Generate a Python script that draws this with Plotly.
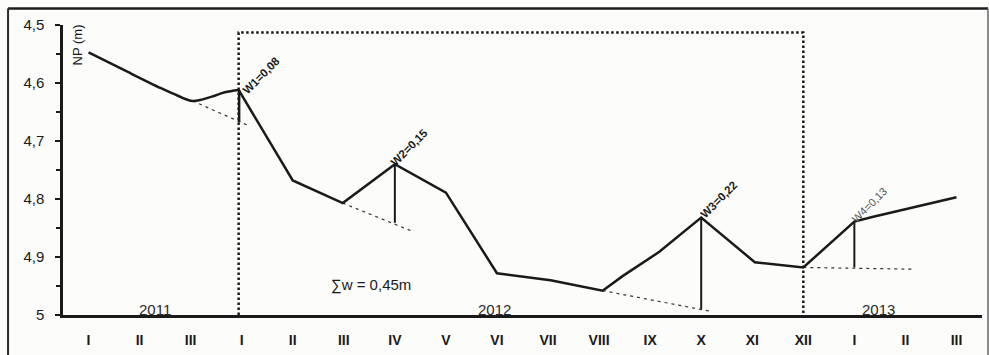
import plotly.graph_objects as go

# --- data ---
months = ["I", "II", "III", "I", "II", "III", "IV", "V", "VI", "VII", "VIII",
          "IX", "X", "XI", "XII", "I", "II", "III"]
month_pos = list(range(len(months)))

# water table depth NP (m), x = month index (0 = I 2011)
# smooth early part (I-2011 .. W1 peak)
np1_x = [0, 0.77, 1.42, 1.75, 2.04, 2.40, 2.67, 2.94]
np1_y = [4.547, 4.581, 4.609, 4.622, 4.631, 4.624, 4.616, 4.612]
# remaining part
np2_x = [2.94, 4.0, 4.98, 6.0, 7.0, 8.0, 9.05, 10.07, 10.46, 11.18, 12.0,
         13.05, 14.0, 15.0, 15.35, 17.0]
np2_y = [4.612, 4.768, 4.807, 4.740, 4.789, 4.928, 4.940, 4.958, 4.933,
         4.891, 4.832, 4.909, 4.918, 4.839, 4.831, 4.797]

# recession (extrapolation) dashed lines: [x0, x1], [y0, y1]
rec1_x, rec1_y = [2.04, 3.12], [4.631, 4.673]
rec2_x, rec2_y = [4.98, 6.35], [4.807, 4.856]
rec3_x, rec3_y = [10.07, 12.15], [4.958, 4.993]
rec4_x, rec4_y = [14.0, 16.17], [4.918, 4.921]

# W rise verticals
w_x = [2.95, 6.0, 12.0, 15.0]
w_top = [4.612, 4.740, 4.832, 4.839]
w_bot = [4.668, 4.841, 4.990, 4.918]
w_labels = ["W1=0,08", "W2=0,15", "W3=0,22", "W4=0,13"]
w_lab_x = [3.395, 6.29, 12.34, 15.29]
w_lab_y = [4.587, 4.711, 4.802, 4.810]

# 2012 hydrological-year box
box_x = [2.94, 2.94, 14.0, 14.0]
box_y = [5.0, 4.513, 4.513, 5.0]

y_ticks = [4.5, 4.6, 4.7, 4.8, 4.9, 5.0]
y_ticktext = ["4,5", "4,6", "4,7", "4,8", "4,9", "5"]

years = ["2011", "2012", "2013"]
year_x = [1.30, 7.95, 15.47]
year_y = [4.991, 4.990, 4.990]

sum_text = "∑w = 0,45m"
sum_x, sum_y = 5.53, 4.948

# --- figure ---
fig = go.Figure()
ink = "#1a1a1a"
FONT = "Liberation Sans, Arial"

fig.add_trace(go.Scatter(x=box_x, y=box_y, mode="lines",
                         line=dict(color=ink, width=2.5, dash="2.5px,2.5px"),
                         hoverinfo="skip"))
for rx, ry in [(rec1_x, rec1_y), (rec2_x, rec2_y), (rec3_x, rec3_y), (rec4_x, rec4_y)]:
    fig.add_trace(go.Scatter(x=rx, y=ry, mode="lines",
                             line=dict(color="#333", width=1.2, dash="3px,4px"),
                             hoverinfo="skip"))
for i in range(len(w_x)):
    fig.add_trace(go.Scatter(x=[w_x[i], w_x[i]], y=[w_top[i], w_bot[i]], mode="lines",
                             line=dict(color=ink, width=2.5 if i == 0 else 2),
                             hoverinfo="skip"))
fig.add_trace(go.Scatter(x=np1_x, y=np1_y, mode="lines",
                         line=dict(color=ink, width=2.5, shape="spline", smoothing=1),
                         hoverinfo="skip"))
fig.add_trace(go.Scatter(x=np2_x, y=np2_y, mode="lines",
                         line=dict(color=ink, width=2.5), hoverinfo="skip"))

for i, t in enumerate(w_labels):
    fig.add_annotation(x=w_lab_x[i], y=w_lab_y[i], text=t, showarrow=False,
                       textangle=-45, xanchor="center", yanchor="middle",
                       font=dict(size=11.5 if i < 3 else 11,
                                 color=ink if i < 3 else "#555",
                                 family=FONT,
                                 weight="bold" if i < 3 else "normal"))
for i, t in enumerate(years):
    fig.add_annotation(x=year_x[i], y=year_y[i], text=t, showarrow=False,
                       xanchor="center", yanchor="middle",
                       font=dict(size=15, color="#2a2a2a", family=FONT))
fig.add_annotation(x=sum_x, y=sum_y, text=sum_text, showarrow=False,
                   xanchor="center", yanchor="middle",
                   font=dict(size=15, color=ink, family=FONT))
fig.add_annotation(x=0.0152, y=0.933, xref="paper", yref="paper", text="NP (m)",
                   showarrow=False, textangle=-90, xanchor="center", yanchor="middle",
                   font=dict(size=13, color=ink, family=FONT))

# outer frame (around whole chart)
fig.add_shape(type="line", xref="paper", yref="paper",
              x0=-0.0598, x1=1.0065, y0=1.057, y1=1.057,
              line=dict(color="#1e1e1e", width=2.5))
fig.add_shape(type="line", xref="paper", yref="paper",
              x0=-0.0598, x1=-0.0598, y0=-0.2, y1=1.057,
              line=dict(color="#2a2a2a", width=2))
fig.add_shape(type="line", xref="paper", yref="paper",
              x0=1.0065, x1=1.0065, y0=-0.2, y1=1.057,
              line=dict(color="#666", width=1.5))

fig.update_layout(
    width=989, height=355,
    margin=dict(l=63, r=7, t=25, b=32),
    paper_bgcolor="#fcfcfa", plot_bgcolor="#fcfcfa",
    showlegend=False,
    font=dict(family=FONT, color=ink),
)
fig.update_xaxes(range=[-0.5, 17.5], tickvals=month_pos, ticktext=months,
                 showgrid=False, zeroline=False, showline=True, linecolor=ink,
                 linewidth=2.5, ticks="outside", ticklen=10,
                 tickcolor="rgba(0,0,0,0)",
                 tickfont=dict(size=14, weight="bold", color=ink, family=FONT))
fig.update_yaxes(range=[5.0, 4.5], tickvals=y_ticks, ticktext=y_ticktext,
                 showgrid=False, zeroline=False, showline=True, linecolor=ink,
                 linewidth=2.5, ticks="outside", ticklen=5, tickcolor=ink, tickwidth=1.5,
                 minor=dict(dtick=0.05, tick0=4.5, ticks="outside", ticklen=4,
                            tickcolor=ink, tickwidth=1.5),
                 ticklabelstandoff=8,
                 tickfont=dict(size=15, color=ink, family=FONT))

# remove the default page margin so the figure sits at the window origin
fig.write_html("out.html", config={"displayModeBar": False},
               post_script="document.body.style.margin='0';")
